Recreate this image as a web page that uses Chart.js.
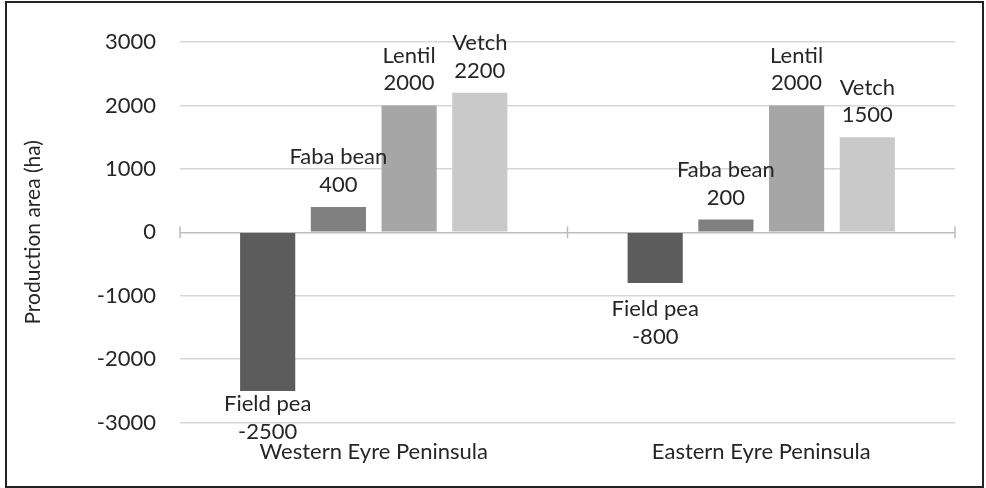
<!DOCTYPE html>
<html>
<head>
<meta charset="utf-8">
<script src="https://cdn.jsdelivr.net/npm/chart.js@4.4.1/dist/chart.umd.min.js"></script>
<style>
  html, body { margin: 0; padding: 0; background: #fff; }
  #wrap { width: 986px; height: 488px; position: relative; }
</style>
</head>
<body>
<div id="wrap"><canvas id="grafico" width="986" height="488"></canvas></div>
<script>
// datos
const regiones = ["Western Eyre Peninsula", "Eastern Eyre Peninsula"]
const cultivos = ["Field pea", "Faba bean", "Lentil", "Vetch"]
const fieldPea = [-2500, -800]
const fabaBean = [400, 200]
const lentil = [2000, 2000]
const vetch = [2200, 1500]
const yMin = -3000
const yMax = 3000
const yPaso = 1000

const colores = ["#5c5c5c", "#808080", "#a6a6a6", "#c9c9c9"]
const fuente = "Lato, 'Open Sans', sans-serif"
const texto = "#262626"

const series = [fieldPea, fabaBean, lentil, vetch]

const datasets = series.map((valores, i) => ({
    label: cultivos[i],
    data: valores,
    backgroundColor: colores[i],
    borderWidth: 0,
    categoryPercentage: 0.73,
    barPercentage: 0.78
}))

// marco alrededor de todo
const marco = {
    id: "marco",
    afterDraw(chart) {
        const c = chart.ctx
        c.save()
        c.strokeStyle = "#222"
        c.lineWidth = 2
        c.strokeRect(6, 2, chart.width - 9, chart.height - 3)
        c.restore()
    }
}

// marcas en la linea del cero
const marcasCero = {
    id: "marcasCero",
    beforeDatasetsDraw(chart) {
        const x = chart.scales.x
        const y0 = chart.scales.y.getPixelForValue(0)
        const ancho = (x.right - x.left) / regiones.length
        const c = chart.ctx
        c.save()
        c.strokeStyle = "#bdbdbd"
        c.lineWidth = 1.5
        for (let i = 0; i <= regiones.length; i++) {
            const px = x.left + i * ancho
            c.beginPath()
            c.moveTo(px, y0 - 6)
            c.lineTo(px, y0 + 6)
            c.stroke()
        }
        c.restore()
    }
}

// etiquetas: nombre y valor
const etiquetas = {
    id: "etiquetas",
    afterDatasetsDraw(chart) {
        const c = chart.ctx
        const abajo = chart.chartArea.bottom
        c.save()
        c.font = "22px " + fuente
        c.fillStyle = texto
        c.textAlign = "center"
        c.textBaseline = "alphabetic"
        chart.data.datasets.forEach((ds, i) => {
            const meta = chart.getDatasetMeta(i)
            meta.data.forEach((barra, j) => {
                const valor = ds.data[j]
                let b1, b2
                if (valor >= 0) {
                    b2 = barra.y - 15
                    b1 = b2 - 27.5
                } else {
                    b1 = barra.y + 33
                    b2 = b1 + 28
                    if (b2 > abajo + 16) {
                        const d = b2 - (abajo + 16)
                        b1 -= d
                        b2 -= d
                    }
                }
                c.fillText(ds.label, barra.x, b1)
                c.fillText(String(valor), barra.x, b2)
            })
        })
        c.restore()
    }
}

const config = {
    type: "bar",
    data: { labels: regiones, datasets },
    options: {
        responsive: false,
        animation: false,
        events: [],
        layout: { padding: { left: 0, right: 31, top: 42, bottom: 7 } },
        plugins: {
            legend: { display: false },
            tooltip: { enabled: false }
        },
        scales: {
            x: {
                grid: { display: false, drawTicks: false },
                border: { display: false },
                ticks: {
                    color: texto,
                    font: { family: fuente, size: 22 },
                    padding: 16,
                    maxRotation: 0
                }
            },
            y: {
                min: yMin,
                max: yMax,
                afterFit(scale) { scale.width = 180 },
                grid: {
                    color: (ctx) => ctx.tick && ctx.tick.value === 0 ? "#bdbdbd" : "#d6d6d6",
                    lineWidth: 1.5,
                    drawTicks: false
                },
                border: { display: false },
                ticks: {
                    stepSize: yPaso,
                    color: texto,
                    font: { family: fuente, size: 22 },
                    padding: 24,
                    callback: (v) => String(v)
                },
                title: {
                    display: true,
                    text: "Production area (ha)",
                    color: texto,
                    font: { family: fuente, size: 21 },
                    padding: { top: 21, bottom: 0 }
                }
            }
        }
    },
    plugins: [marco, marcasCero, etiquetas]
}

const migrafico = new Chart(document.getElementById("grafico"), config)
</script>
</body>
</html>
